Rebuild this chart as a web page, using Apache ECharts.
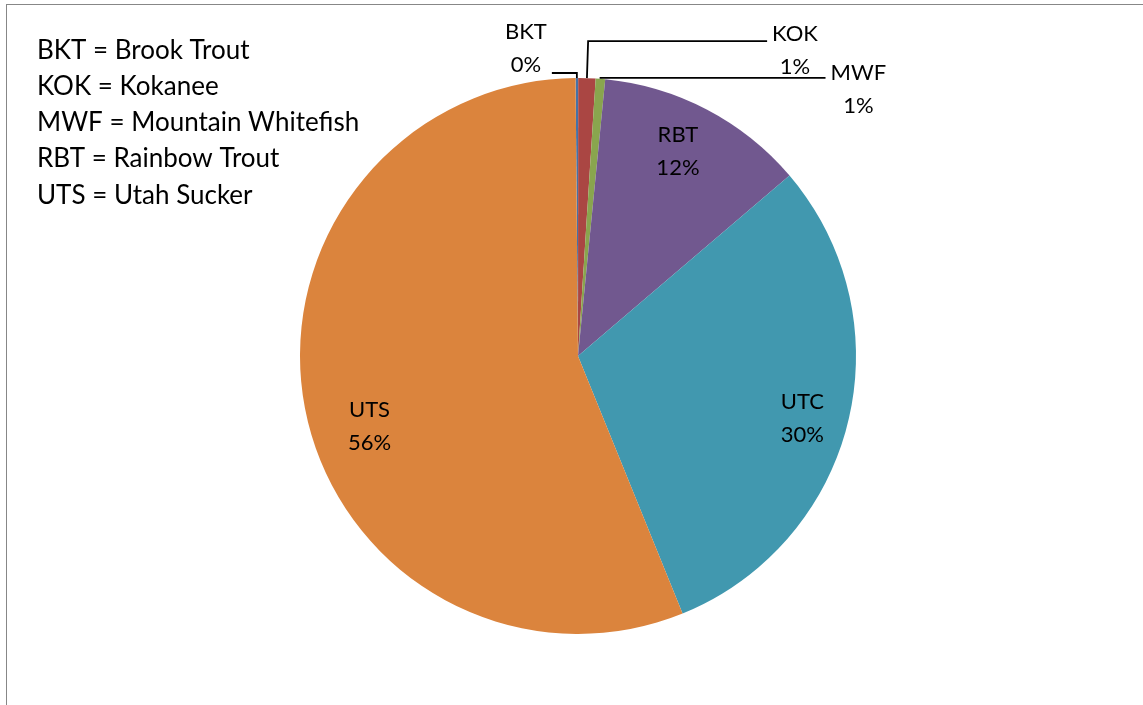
<!DOCTYPE html>
<html>
	<head>
		<meta charset="UTF-8">
		<title>Fish species composition</title>
		<script type="text/javascript" src="https://cdn.jsdelivr.net/npm/echarts@6/dist/echarts.min.js"></script>
		<style type="text/css">
			html, body {
				margin: 0;
				padding: 0;
				background: #fff;
			}
			#chart {
				position: absolute;
				left: 0;
				top: 0;
				width: 1143px;
				height: 705px;
			}
			#frame {
				position: absolute;
				left: 6px;
				top: 4px;
				width: 1137px;
				height: 701px;
				border-left: 1px solid #878787;
				border-top: 1px solid #878787;
				box-sizing: border-box;
				pointer-events: none;
			}
		</style>
	</head>
	<body>
		<div id="chart"></div>
		<div id="frame"></div>
		<script type="text/javascript">
			// species codes and share of catch (%)
			var species = ["BKT", "KOK", "MWF", "RBT", "UTC", "UTS"];
			var shares = [0.15, 1.0, 0.55, 12.2, 30.1, 56.0];
			var colors = ["#4572A7", "#AA4643", "#89A54E", "#71588F", "#4198AF", "#DB843D"];
			var legendLines = [
				"BKT = Brook Trout",
				"KOK = Kokanee",
				"MWF = Mountain Whitefish",
				"RBT = Rainbow Trout",
				"UTS = Utah Sucker"
			];
			// which labels sit outside with a leader line
			var outside = ["BKT", "KOK", "MWF"];

			var font = "Lato, 'Open Sans', sans-serif";

			function fmt(p) {
				return "{c|" + p.name + "}\n{c|" + Math.round(p.percent) + "%}";
			}
			var rich = {
				c: {
					align: "center",
					fontSize: 22,
					lineHeight: 33,
					color: "#000",
					fontFamily: font
				}
			};

			// tweaks for the outside labels (leader line lengths, nudge)
			var outerTweak = {
				BKT: { length: 5, length2: 25, padding: [0, 0, 50, 0] },
				KOK: { length: 37, length2: 179, padding: [18, 0, 0, 0] },
				MWF: { length: 1, length2: 225, padding: [22, 0, 0, 0] }
			};
			var innerTweak = {
				RBT: [0, 14, 0, 0],
				UTC: [16, 0, 0, 0],
				UTS: [50, 0, 0, 36]
			};

			var mainData = [], innerData = [];
			for (var i = 0; i < species.length; i++) {
				var name = species[i];
				var isOut = outside.indexOf(name) >= 0;
				var t = outerTweak[name];
				mainData.push({
					name: name,
					value: shares[i],
					itemStyle: { color: colors[i] },
					label: isOut ? { show: true, padding: t.padding } : { show: false },
					labelLine: isOut ? { show: true, length: t.length, length2: t.length2 } : { show: false }
				});
				innerData.push({
					name: name,
					value: shares[i],
					label: isOut ? { show: false } : { show: true, padding: innerTweak[name] || 0 }
				});
			}

			var chart = echarts.init(document.getElementById("chart"));
			chart.setOption({
				animation: false,
				backgroundColor: "#fff",
				title: {
					text: legendLines.join("\n"),
					left: 37,
					top: 32,
					padding: 0,
					textStyle: {
						fontFamily: font,
						fontSize: 26,
						fontWeight: "normal",
						lineHeight: 36.3,
						color: "#000"
					}
				},
				series: [{
					name: "main",
					type: "pie",
					center: [578, 356],
					radius: 278,
					startAngle: 90.5,
					clockwise: true,
					avoidLabelOverlap: false,
					silent: true,
					label: {
						position: "outside",
						formatter: fmt,
						rich: rich,
						distanceToLabelLine: 5
					},
					labelLine: {
						lineStyle: { color: "#000", width: 1.8 }
					},
					itemStyle: { borderWidth: 0 },
					data: mainData
				}, {
					name: "labels",
					type: "pie",
					center: [578, 356],
					radius: [180, 276],
					startAngle: 90.5,
					clockwise: true,
					avoidLabelOverlap: false,
					silent: true,
					itemStyle: { color: "rgba(0,0,0,0)", borderWidth: 0 },
					label: {
						position: "inside",
						formatter: fmt,
						rich: rich
					},
					labelLine: { show: false },
					data: innerData
				}]
			});
		</script>
	</body>
</html>
